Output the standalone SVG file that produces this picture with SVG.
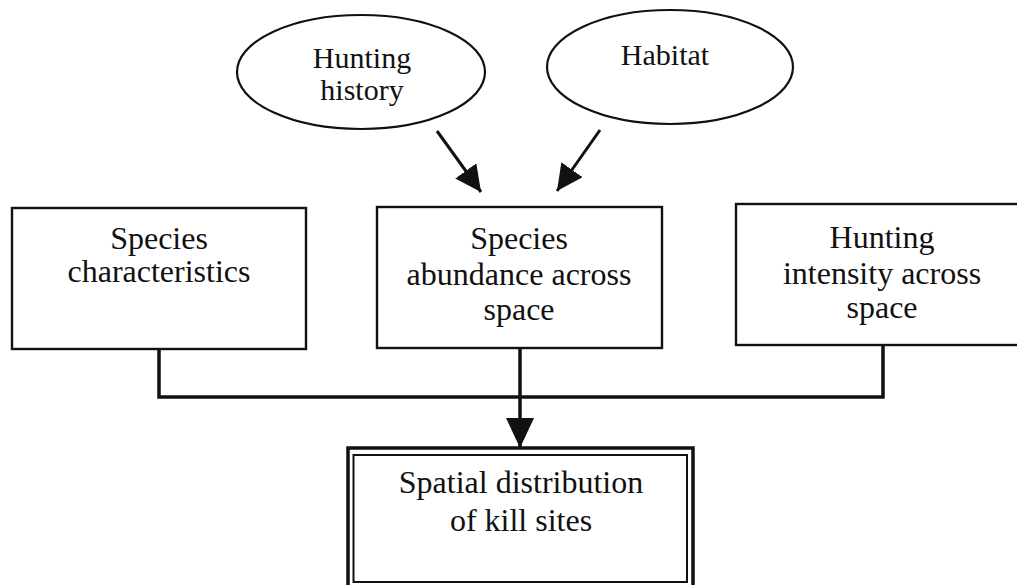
<svg xmlns="http://www.w3.org/2000/svg" width="1017" height="585" viewBox="0 0 1017 585">
<style>
.box{fill:#fff;stroke:#111;stroke-width:2.4}
.t{font-family:"Liberation Serif","Times New Roman",serif;font-size:32px;fill:#111;text-anchor:middle}
.te{font-family:"Liberation Serif","Times New Roman",serif;font-size:30px;fill:#111;text-anchor:middle}
.conn{fill:none;stroke:#111;stroke-width:3.5}
.arr{fill:none;stroke:#111;stroke-width:3}
.ell{fill:#fff;stroke:#111;stroke-width:2.2}
</style>
<defs>
<marker id="ahs" viewBox="0 0 26 26" refX="26" refY="13" markerWidth="26" markerHeight="26" orient="auto" markerUnits="userSpaceOnUse">
<path d="M0,0 L26,13 L0,26 z" fill="#111"/>
</marker>
<marker id="ahb" viewBox="0 0 30 28" refX="30" refY="14" markerWidth="30" markerHeight="28" orient="auto" markerUnits="userSpaceOnUse">
<path d="M0,0 L30,14 L0,28 z" fill="#111"/>
</marker>
</defs>
<rect width="1017" height="585" fill="#fff"/>
<g id="connectors">
<line class="arr" x1="437" y1="131" x2="481" y2="192" marker-end="url(#ahs)"/>
<line class="arr" x1="600" y1="130" x2="557" y2="191" marker-end="url(#ahs)"/>
<path class="conn" d="M159,349 V397 H883 V345"/>
<line class="conn" x1="520" y1="348" x2="520" y2="448" marker-end="url(#ahb)"/>
</g>
<g id="hunting-history">
<ellipse class="ell" cx="361" cy="72" rx="124" ry="57"/>
<text class="te" x="362" y="68">Hunting</text>
<text class="te" x="362" y="100">history</text>
</g>
<g id="habitat">
<ellipse class="ell" cx="670" cy="67" rx="123" ry="57"/>
<text class="te" x="665" y="65">Habitat</text>
</g>
<g id="species-characteristics">
<rect class="box" x="12" y="208" width="294" height="141"/>
<text class="t" x="159" y="249">Species</text>
<text class="t" x="159" y="282">characteristics</text>
</g>
<g id="species-abundance">
<rect class="box" x="377" y="207" width="285" height="141"/>
<text class="t" x="519" y="249">Species</text>
<text class="t" x="519" y="285">abundance across</text>
<text class="t" x="519" y="320">space</text>
</g>
<g id="hunting-intensity">
<rect class="box" x="736" y="204" width="296" height="141"/>
<text class="t" x="882" y="248">Hunting</text>
<text class="t" x="882" y="284">intensity across</text>
<text class="t" x="882" y="318">space</text>
</g>
<g id="spatial-distribution">
<rect x="348" y="448" width="345" height="145" fill="#fff" stroke="#111" stroke-width="3.5"/>
<rect x="353.5" y="455" width="333.5" height="127" fill="none" stroke="#111" stroke-width="2"/>
<text class="t" x="521" y="493">Spatial distribution</text>
<text class="t" x="521" y="531">of kill sites</text>
</g>
</svg>
